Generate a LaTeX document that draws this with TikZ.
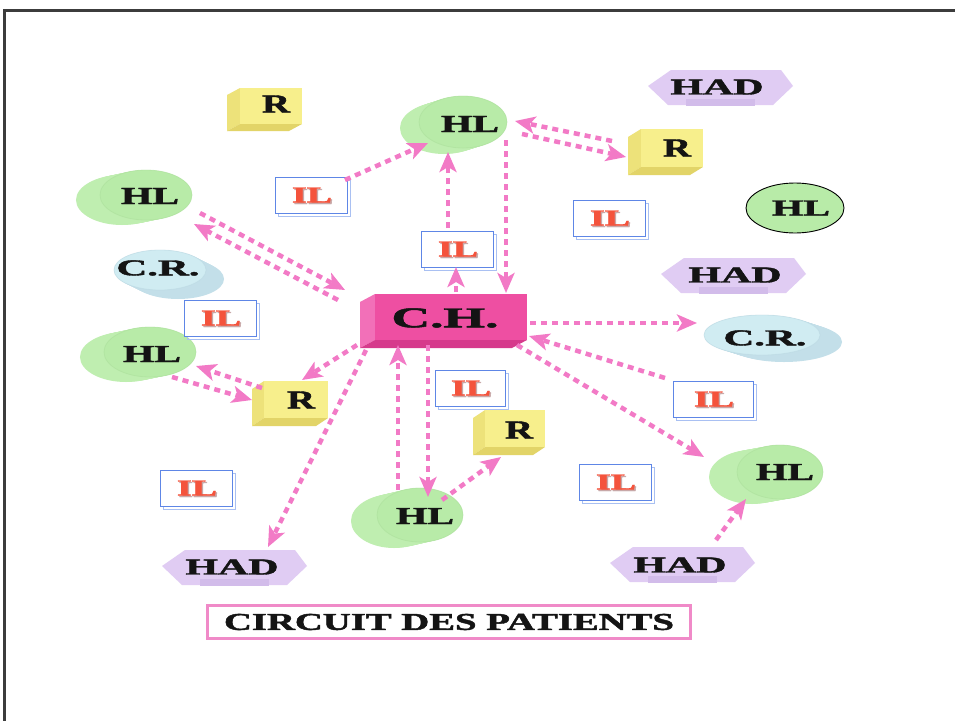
\documentclass[tikz,border=0pt]{standalone}
\usepackage{fontspec}
\setmainfont{Liberation Serif}
\newfontfamily\heavy[FakeBold=1.6]{Liberation Serif Bold}
\usetikzlibrary{arrows.meta}
\definecolor{arrowpink}{HTML}{F27AC6}
\definecolor{yelF}{HTML}{F7EF8C}
\definecolor{yelS}{HTML}{EDE27A}
\definecolor{yelB}{HTML}{E2D468}
\definecolor{pnkF}{HTML}{EE4FA2}
\definecolor{pnkS}{HTML}{F270B8}
\definecolor{pnkB}{HTML}{D63A8C}
\definecolor{grnF}{HTML}{B8EBA8}
\definecolor{grnS}{HTML}{BFEEB0}
\definecolor{grnE}{HTML}{A8DC98}
\definecolor{bluF}{HTML}{D0ECF2}
\definecolor{bluS}{HTML}{C3DFE9}
\definecolor{bluE}{HTML}{B8D6E0}
\definecolor{hadF}{HTML}{E0CCF3}
\definecolor{hadB}{HTML}{D2BCEA}
\definecolor{ilblue}{HTML}{5E86E6}
\definecolor{ilblue2}{HTML}{A9C0F2}
\definecolor{ilred}{HTML}{F4533C}
\definecolor{ilshadow}{HTML}{C8A8A8}
\definecolor{titlepink}{HTML}{F08AC8}
\definecolor{framegray}{HTML}{3C3C3C}
\definecolor{txt}{HTML}{141414}
\newcommand\lbl[3]{\resizebox{#1pt}{#2pt}{\heavy #3}}
% 3D box: x1 y1 x2 y2 (front face), d (left), e (down), colour prefix
\newcommand\boxthreed[7]{%
  \fill[#7S] (#1,#2) -- ({#1-#5},{#2+#6}) -- ({#1-#5},{#4+#6}) -- (#1,#4) -- cycle;
  \fill[#7B] (#1,#4) -- ({#1-#5},{#4+#6}) -- ({#3-#5},{#4+#6}) -- (#3,#4) -- cycle;
  \fill[#7F] (#1,#2) rectangle (#3,#4);}
% cylinder: cx cy (front), rx ry, dx dy (back offset), colour prefix
\newcommand\cylthreed[7]{%
  \foreach \t in {0,0.1,...,1.01}
    \fill[#7S] ({#1+\t*#5},{#2+\t*#6}) ellipse [x radius=#3pt, y radius=#4pt];
  \fill[#7F] (#1,#2) ellipse [x radius=#3pt, y radius=#4pt];
  \draw[#7E, line width=0.8pt, opacity=0.45] (#1,#2) ellipse [x radius=#3pt, y radius=#4pt];}
\newcommand\hadshape[2]{%
  \fill[hadF] ({#1-72},{#2-1}) -- ({#1-49},{#2-17}) -- ({#1+61},{#2-17}) -- ({#1+73},{#2-1})
     -- ({#1+53},{#2+18}) -- ({#1-52},{#2+18}) -- cycle;
  \fill[hadB] ({#1-34},{#2+12}) rectangle ({#1+35},{#2+19});}
\newcommand\ilbox[4]{% name cx cy halfwidth
  \draw[ilblue2, line width=0.8pt] ({#2-#4+3},{#3-18+3}) rectangle ({#2+#4+3},{#3+18+3});
  \filldraw[fill=white, draw=ilblue, line width=0.8pt] ({#2-#4},{#3-18}) rectangle ({#2+#4},{#3+18});
  \node[inner sep=0, text=ilshadow] at ({#2+2.5},{#3+1.5}) {\lbl{40}{15}{IL}};
  \node[inner sep=0, text=ilred] (#1) at ({#2+1},{#3}) {\lbl{40}{15}{IL}};}
\tikzset{
  pk/.style={draw=arrowpink, line width=4.5pt, dash pattern=on 6pt off 5pt,
    -{Stealth[length=20pt,width=17pt,inset=5pt,fill=arrowpink]}},
  lab/.style={inner sep=0pt, text=txt}
}
\begin{document}
\begin{tikzpicture}[x=1pt,y=-1pt]
\useasboundingbox (0,0) rectangle (955,720);
\fill[white] (0,0) rectangle (955,720);
\draw[framegray, line width=2.5pt] (4.5,722) -- (4.5,10.5) -- (957,10.5);

% ---------- yellow R cubes ----------
\boxthreed{240}{88}{302}{124}{13}{7}{yel}
\node[lab] (r1) at (276,104) {\lbl{28}{17}{R}};
\boxthreed{641}{129}{703}{167}{13}{8}{yel}
\node[lab] (r2) at (677,148) {\lbl{28}{17}{R}};
\boxthreed{264}{381}{328}{418}{12}{8}{yel}
\node[lab] (r3) at (301,400) {\lbl{28}{17}{R}};
\boxthreed{485}{410}{545}{447}{12}{8}{yel}
\node[lab] (r4) at (519,430) {\lbl{28}{17}{R}};

% ---------- C.H. ----------
\boxthreed{375}{294}{527}{340}{15}{8}{pnk}
\node[lab] (ch) at (445,318) {\lbl{107}{19}{C.H.}};

% ---------- HL cylinders ----------
\cylthreed{463}{122}{44}{26}{-19}{6}{grn}
\node[lab] (hlT) at (470,124) {\lbl{58}{16}{HL}};
\cylthreed{146}{195}{46}{25}{-24}{5}{grn}
\node[lab] (hlL1) at (150,196) {\lbl{58}{16}{HL}};
\cylthreed{150}{352}{46}{25}{-24}{5}{grn}
\node[lab] (hlL2) at (152,354) {\lbl{58}{16}{HL}};
\cylthreed{420}{515}{43}{27}{-26}{6}{grn}
\node[lab] (hlB) at (425,516) {\lbl{58}{16}{HL}};
\cylthreed{780}{472}{43}{27}{-28}{5}{grn}
\node[lab] (hlR) at (785,472) {\lbl{58}{16}{HL}};

% flat HL
\filldraw[fill=grnF, draw=black, line width=0.9pt] (795,208) ellipse [x radius=49pt, y radius=25pt];
\node[lab] (hlF) at (801,208) {\lbl{58}{15}{HL}};

% ---------- C.R. ----------
\cylthreed{160}{270}{46}{20}{18}{9}{blu}
\node[lab] (crL) at (158,268) {\lbl{83}{15}{C.R.}};
\cylthreed{762}{335}{58}{20}{22}{7}{blu}
\node[lab] (crR) at (765,338) {\lbl{83}{15}{C.R.}};

% ---------- HAD ----------
\hadshape{720}{87}
\node[lab] (hadT) at (717,87) {\lbl{93}{15}{HAD}};
\hadshape{733}{275}
\node[lab] (hadM) at (735,275) {\lbl{93}{15}{HAD}};
\hadshape{234}{567}
\node[lab] (hadBL) at (232,567) {\lbl{93}{15}{HAD}};
\hadshape{682}{564}
\node[lab] (hadBR) at (680,565) {\lbl{93}{15}{HAD}};

% ---------- IL boxes ----------
\ilbox{il1}{311}{195}{36}
\ilbox{il2}{457}{249}{36}
\ilbox{il3}{609}{218}{36}
\ilbox{il4}{220}{318}{36}
\ilbox{il5}{470}{388}{35}
\ilbox{il6}{713}{399}{40}
\ilbox{il7}{196}{488}{36}
\ilbox{il8}{615}{482}{36}

% ---------- title ----------
\draw[titlepink, line width=3pt] (207,605) rectangle (690,638);
\node[lab] (title) at (449,622) {\lbl{450}{16}{CIRCUIT DES PATIENTS}};

% ---------- arrow end points ----------
\coordinate (aS) at (345,180);  \coordinate (aE) at (428,143);
\coordinate (b1S) at (612,141); \coordinate (b1E) at (515,121);
\coordinate (b2S) at (522,134); \coordinate (b2E) at (626,157);
\coordinate (cS) at (448,228);  \coordinate (cE) at (448,152);
\coordinate (dS) at (506,140);  \coordinate (dE) at (506,293);
\coordinate (eS) at (456,292);  \coordinate (eE) at (456,267);
\coordinate (f1S) at (200,213); \coordinate (f1E) at (345,290);
\coordinate (f2S) at (338,300); \coordinate (f2E) at (194,224);
\coordinate (gS) at (357,345);  \coordinate (gE) at (302,380);
\coordinate (h1S) at (262,388); \coordinate (h1E) at (196,366);
\coordinate (h2S) at (172,377); \coordinate (h2E) at (252,400);
\coordinate (iS) at (366,350);  \coordinate (iE) at (268,547);
\coordinate (j1S) at (398,490); \coordinate (j1E) at (398,345);
\coordinate (j2S) at (428,345); \coordinate (j2E) at (428,497);
\coordinate (kS) at (442,500);  \coordinate (kE) at (501,457);
\coordinate (lS) at (517,345);  \coordinate (lE) at (704,457);
\coordinate (mS) at (530,323);  \coordinate (mE) at (697,323);
\coordinate (nS) at (665,378);  \coordinate (nE) at (529,336);
\coordinate (oS) at (716,540);  \coordinate (oE) at (746,499);

\draw[pk] (aS) -- (aE);
\draw[pk] (b1S) -- (b1E);
\draw[pk] (b2S) -- (b2E);
\draw[pk] (cS) -- (cE);
\draw[pk] (dS) -- (dE);
\draw[pk] (eS) -- (eE);
\draw[pk] (f1S) -- (f1E);
\draw[pk] (f2S) -- (f2E);
\draw[pk] (gS) -- (gE);
\draw[pk] (h1S) -- (h1E);
\draw[pk] (h2S) -- (h2E);
\draw[pk] (iS) -- (iE);
\draw[pk] (j1S) -- (j1E);
\draw[pk] (j2S) -- (j2E);
\draw[pk] (kS) -- (kE);
\draw[pk] (lS) -- (lE);
\draw[pk] (mS) -- (mE);
\draw[pk] (nS) -- (nE);
\draw[pk] (oS) -- (oE);
\end{tikzpicture}
\end{document}
